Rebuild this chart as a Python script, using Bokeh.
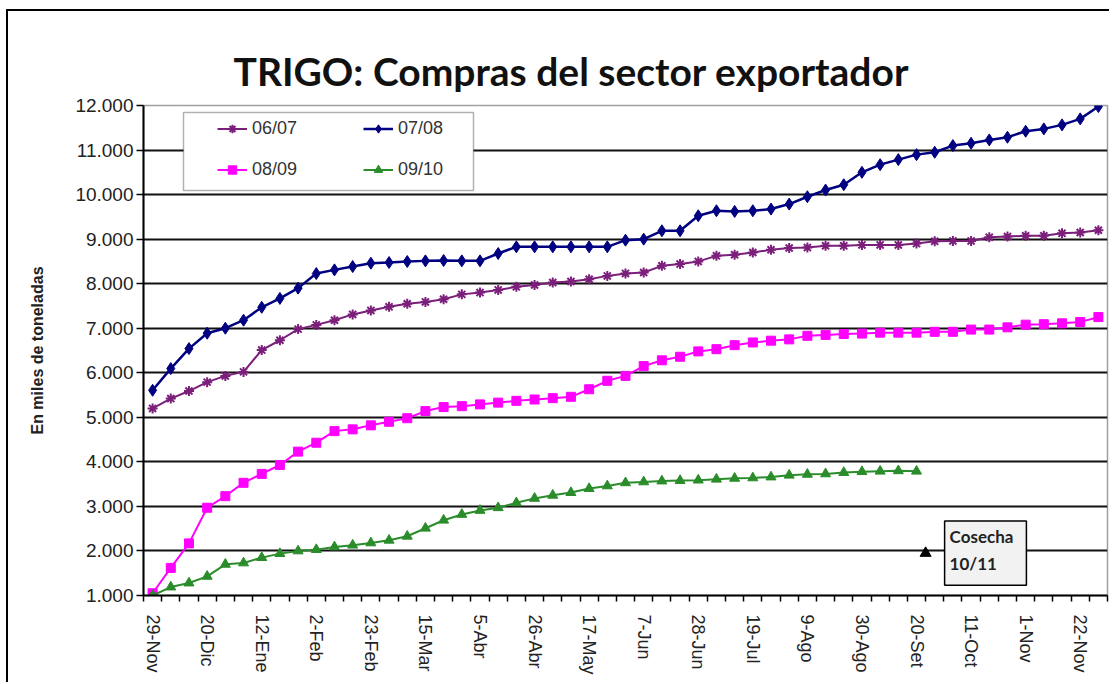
from bokeh.plotting import figure
from bokeh.models import FixedTicker, Legend, LegendItem, Label, BoxAnnotation, Range1d
from bokeh.embed import file_html
from bokeh.resources import INLINE

# ---- data ----
weeks = list(range(53))
x_tick_positions = [0, 3, 6, 9, 12, 15, 18, 21, 24, 27, 30, 33, 36, 39, 42, 45, 48, 51]
x_tick_labels = ["29-Nov", "20-Dic", "12-Ene", "2-Feb", "23-Feb", "15-Mar", "5-Abr", "26-Abr",
                 "17-May", "7-Jun", "28-Jun", "19-Jul", "9-Ago", "30-Ago", "20-Set", "11-Oct",
                 "1-Nov", "22-Nov"]
y_ticks = [1000, 2000, 3000, 4000, 5000, 6000, 7000, 8000, 9000, 10000, 11000, 12000]
y_tick_labels = ["1.000", "2.000", "3.000", "4.000", "5.000", "6.000", "7.000", "8.000",
                 "9.000", "10.000", "11.000", "12.000"]

s0607 = [5200, 5420, 5590, 5790, 5930, 6020, 6510, 6730, 6980, 7075,
         7180, 7310, 7400, 7480, 7550, 7590, 7650, 7760, 7800, 7860,
         7930, 7970, 8025, 8050, 8100, 8175, 8230, 8250, 8400, 8440,
         8500, 8625, 8650, 8700, 8760, 8800, 8810, 8850, 8850, 8870,
         8870, 8870, 8900, 8950, 8960, 8960, 9040, 9060, 9075, 9075,
         9130, 9150, 9200]
s0708 = [5607, 6094, 6543, 6888, 7000, 7180, 7470, 7670, 7900, 8227,
         8310, 8385, 8460, 8475, 8497, 8512, 8520, 8512, 8512, 8677,
         8827, 8827, 8827, 8827, 8827, 8827, 8977, 9000, 9187, 9187,
         9525, 9637, 9622, 9637, 9675, 9787, 9952, 10102, 10222, 10500,
         10672, 10785, 10897, 10950, 11100, 11152, 11227, 11287, 11422, 11475,
         11565, 11700, 11977]
s0809 = [1050, 1620, 2170, 2970, 3230, 3530, 3730, 3930, 4230, 4430,
         4690, 4730, 4820, 4900, 4980, 5140, 5230, 5250, 5290, 5330,
         5370, 5400, 5430, 5460, 5630, 5820, 5930, 6150, 6280, 6360,
         6480, 6530, 6620, 6680, 6720, 6750, 6830, 6850, 6870, 6880,
         6900, 6900, 6900, 6920, 6920, 6970, 6970, 7020, 7080, 7090,
         7110, 7140, 7250]
s0910 = [1000, 1190, 1280, 1430, 1700, 1730, 1850, 1940, 2000, 2030,
         2090, 2130, 2180, 2240, 2330, 2510, 2690, 2820, 2910, 2970,
         3080, 3180, 3250, 3310, 3400, 3460, 3530, 3550, 3570, 3580,
         3590, 3610, 3630, 3640, 3660, 3700, 3720, 3730, 3760, 3780,
         3790, 3800, 3790]
weeks_0910 = weeks[:len(s0910)]

harvest_week = [42.5]
harvest_value = [1950]
harvest_text = "Cosecha\n10/11"

series_names = ["06/07", "07/08", "08/09", "09/10"]
colors = ["#7b1f7b", "#000080", "#ff00ff", "#2a8c2a"]

# ---- figure ----
p = figure(width=1103, height=673, x_range=Range1d(-0.5, 52.5), y_range=Range1d(1000, 12000),
           output_backend="svg", toolbar_location=None,
           min_border_left=135, min_border_right=4, min_border_top=94, min_border_bottom=89)
p.styles = {"margin-left": "6px", "margin-top": "9px",
            "border-left": "2px solid #000", "border-top": "2px solid #000"}
p.background_fill_color = "white"
p.border_fill_color = "white"
p.outline_line_color = "#a0a0a0"
p.outline_line_width = 1.5

p.title.text = "TRIGO: Compras del sector exportador"
p.title.text_font = "Lato"
p.title.text_font_size = "39px"
p.title.text_font_style = "bold"
p.title.text_color = "#111111"
p.title.align = "left"
p.title.offset = 90
p.title.standoff = 24

# axes
p.axis.axis_line_color = "black"
p.axis.axis_line_width = 2
p.axis.major_label_text_font = "Liberation Sans"
p.axis.major_label_text_color = "#222222"

p.yaxis.ticker = FixedTicker(ticks=y_ticks)
p.yaxis.major_label_overrides = dict(zip(y_ticks, y_tick_labels))
p.yaxis.major_label_text_font_size = "19px"
p.yaxis.major_tick_out = 7
p.yaxis.major_tick_in = 0
p.yaxis.major_tick_line_width = 1.5
p.yaxis.major_tick_line_color = "black"
p.yaxis.minor_tick_line_color = None
p.yaxis.major_label_standoff = 3
p.yaxis.axis_label = "En miles de toneladas"
p.yaxis.axis_label_text_font = "Liberation Sans"
p.yaxis.axis_label_text_font_size = "16px"
p.yaxis.axis_label_text_font_style = "bold"
p.yaxis.axis_label_text_color = "#222222"
p.yaxis.axis_label_standoff = 26

p.xaxis.ticker = FixedTicker(ticks=x_tick_positions, minor_ticks=[w - 0.5 for w in weeks] + [weeks[-1] + 0.5])
p.xaxis.major_label_overrides = dict(zip(x_tick_positions, x_tick_labels))
p.xaxis.major_label_text_font_size = "18px"
p.xaxis.major_label_orientation = "vertical"
p.xaxis.major_tick_out = 0
p.xaxis.major_tick_in = 0
p.xaxis.minor_tick_out = 6
p.xaxis.minor_tick_in = 0
p.xaxis.minor_tick_line_color = "black"
p.xaxis.minor_tick_line_width = 1.5
p.xaxis.major_label_standoff = 13

p.xgrid.visible = False
p.ygrid.ticker = FixedTicker(ticks=y_ticks[1:-1])
p.ygrid.grid_line_color = "#111111"
p.ygrid.grid_line_width = 1.8

# series
l1 = p.line(weeks, s0607, line_color=colors[0], line_width=2)
m1 = p.scatter(weeks, s0607, marker="asterisk", size=10, line_color=colors[0], line_width=2)
l2 = p.line(weeks, s0708, line_color=colors[1], line_width=2.5)
m2 = p.scatter(weeks, s0708, marker="diamond", size=12, fill_color=colors[1], line_color=colors[1])
l3 = p.line(weeks, s0809, line_color=colors[2], line_width=2)
m3 = p.scatter(weeks, s0809, marker="square", size=9, fill_color=colors[2], line_color=colors[2])
l4 = p.line(weeks_0910, s0910, line_color=colors[3], line_width=2)
m4 = p.scatter(weeks_0910, s0910, marker="triangle", size=10, fill_color=colors[3], line_color=colors[3])

# harvest marker and callout
p.scatter(harvest_week, harvest_value, marker="triangle", size=11, fill_color="black", line_color="black")
callout = Label(x=harvest_week[0], y=harvest_value[0], x_offset=19, y_offset=0, text=harvest_text,
                anchor="center_left", text_font="Lato", text_font_size="17px", text_font_style="bold",
                text_color="#222222", text_line_height=1.3,
                background_fill_color="#f2f2f2", border_line_color="black", border_line_width=1.5,
                padding=(5, 13, 5, 11))
p.add_layout(callout)

# legend box and legend
box = BoxAnnotation(left=40, right=330, bottom=405, top=483,
                    left_units="screen", right_units="screen", top_units="screen", bottom_units="screen",
                    fill_color="white", fill_alpha=1.0, line_color="black", line_width=1.5)
p.add_layout(box)

legend = Legend(items=[
    LegendItem(label=series_names[0], renderers=[l1, m1]),
    LegendItem(label=series_names[2], renderers=[l3, m3]),
    LegendItem(label=series_names[1], renderers=[l2, m2]),
    LegendItem(label=series_names[3], renderers=[l4, m4]),
], location=(74, 415), orientation="vertical", ncols=2)
legend.label_text_font = "Liberation Sans"
legend.label_text_font_size = "18px"
legend.label_text_color = "#333333"
legend.glyph_width = 30
legend.glyph_height = 21
legend.label_height = 21
legend.label_width = 91
legend.label_standoff = 5
legend.spacing = 20
legend.padding = 0
legend.margin = 0
legend.border_line_alpha = 0
legend.background_fill_alpha = 0
p.add_layout(legend)

open("out.html", "w").write(file_html(p, INLINE))
